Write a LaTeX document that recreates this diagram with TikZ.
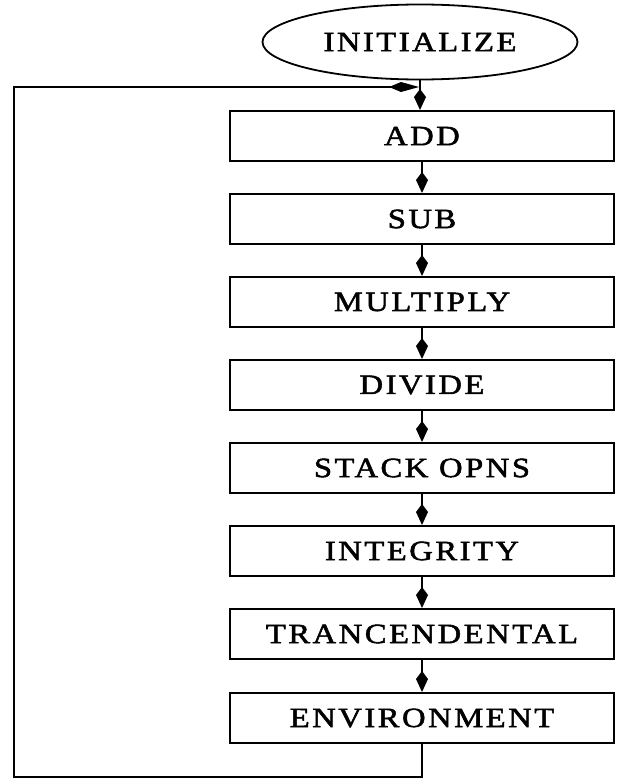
\documentclass[tikz,border=0pt]{standalone}
\usepackage{fontspec}
\setmainfont{Liberation Serif}[LetterSpace=9,FakeStretch=1.17,FakeBold=1.8]
\usetikzlibrary{arrows.meta,shapes.geometric}

\begin{document}
\begin{tikzpicture}[x=1bp,y=-1bp,
    every node/.style={font=\fontsize{28}{32}\selectfont},
    opbox/.style={draw,line width=2bp,minimum width=384bp,minimum height=50bp,inner sep=0pt},
    flow/.style={line width=2bp,-{Kite[length=21bp,width=12bp,inset=8bp]}}]
    \useasboundingbox (0,0) rectangle (618,781);
    % start and the eight steps
    \node[draw,ellipse,line width=1.8bp,minimum width=315bp,minimum height=75bp,inner sep=0pt] (init) at (420,42) {INITIALIZE};
    \node[opbox] (add) at (422,136) {ADD};
    \node[opbox] (sub) at (422,219) {SUB};
    \node[opbox] (mul) at (422,302) {MULTIPLY};
    \node[opbox] (div) at (422,385) {DIVIDE};
    \node[opbox] (stack) at (422,468) {STACK OPNS};
    \node[opbox] (integ) at (422,551) {INTEGRITY};
    \node[opbox] (trans) at (422,634) {TRANCENDENTAL};
    \node[opbox] (env) at (422,718) {ENVIRONMENT};
    \coordinate (join) at (420,87);
    \coordinate (corner) at (14,777);
    % arrows down the chain
    \draw[line width=2bp] (init) -- (join);
    \draw[flow] (join) -- (join |- add.north);
    \draw[flow] (add) -- (sub);
    \draw[flow] (sub) -- (mul);
    \draw[flow] (mul) -- (div);
    \draw[flow] (div) -- (stack);
    \draw[flow] (stack) -- (integ);
    \draw[flow] (integ) -- (trans);
    \draw[flow] (trans) -- (env);
    % loop back to the top
    \draw[line width=2bp,-{Kite[length=30bp,width=10bp,inset=12bp]},shorten >=1bp] (env.south) |- (corner) |- (join);
\end{tikzpicture}
\end{document}
